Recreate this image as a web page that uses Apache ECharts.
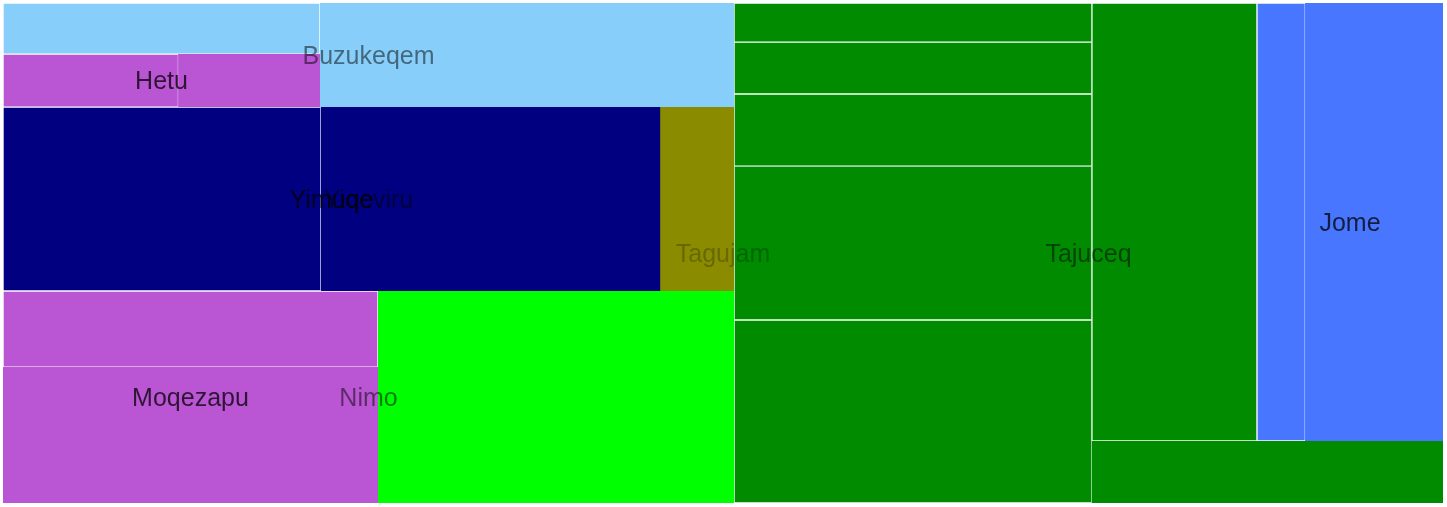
<!DOCTYPE html>
<html>
<head>
<meta charset="utf-8">
<script src="https://cdn.jsdelivr.net/npm/echarts@6/dist/echarts.min.js"></script>
<style>
html, body { margin: 0; padding: 0; background: #ffffff; }
#chart { width: 1447px; height: 507px; }
</style>
</head>
<body>
<div id="chart"></div>
<script>
// ---- data ----
// Every node in depth-first order; children keep this order.
const nodeNames = ['Tagujam', 'Buzukeqem', 'Buzukeqem 1', 'Hetu', 'Hetu 1', 'Yiqeviru', 'Yimuqe', 'Yimuqe 1',
  'Nimo', 'Moqezapu', 'Moqezapu 1', 'Tajuceq', 'Tajuceq 1', 'Tajuceq 2', 'Tajuceq 3', 'Tajuceq 4',
  'Tajuceq 5', 'Tajuceq 6', 'Jome', 'Jome 1'];
const nodeParents = ['', 'Tagujam', 'Buzukeqem', 'Buzukeqem', 'Hetu', 'Tagujam', 'Yiqeviru', 'Yimuqe',
  'Tagujam', 'Nimo', 'Moqezapu', 'Tagujam', 'Tajuceq', 'Tajuceq', 'Tajuceq', 'Tajuceq',
  'Tajuceq', 'Tajuceq', 'Tajuceq', 'Jome'];
// Own value of each node (for a group: the part not covered by its children)
const nodeValues = [0, 431, 162, 75, 93, 136, 624, 585,
  755, 509, 286, 218, 140, 186, 258, 551,
  655, 723, 603, 212];
// Group colours
const groupNames = ['Tagujam', 'Buzukeqem', 'Hetu', 'Yiqeviru', 'Yimuqe', 'Nimo', 'Moqezapu', 'Tajuceq', 'Jome'];
const groupColors = ['#66CD00', '#87CEFA', '#BA55D3', '#8B8B00', '#000080', '#00FF00', '#BA55D3', '#008B00', '#4876FF'];

// ---- build the hierarchy ----
const CLEAR = 'rgba(0,0,0,0)';
function build(name, inheritedColor, visible) {
  const idx = nodeNames.indexOf(name);
  const gi = groupNames.indexOf(name);
  const color = gi >= 0 ? groupColors[gi] : inheritedColor;
  const kids = nodeNames.filter(function (n, i) { return nodeParents[i] === name; });
  const node = { name: name };
  if (!kids.length) {
    node.value = nodeValues[idx];
    node.itemStyle = visible
      ? { color: color, borderColor: '#ffffff', borderWidth: 0.7 }
      : { color: CLEAR, borderColor: CLEAR, borderWidth: 0 };
    node.label = { show: false };
    return node;
  }
  node.children = kids.map(function (k) { return build(k, color, visible); });
  if (nodeValues[idx] > 0) {
    node.children.push({
      name: name,
      value: nodeValues[idx],
      itemStyle: visible ? { color: color, borderColor: color, borderWidth: 0 } : { color: CLEAR, borderColor: CLEAR, borderWidth: 0 },
      label: { show: false }
    });
  }
  node.itemStyle = visible
    ? { color: color, borderColor: color, borderWidth: 0, gapWidth: 0 }
    : { color: CLEAR, borderColor: CLEAR, borderWidth: 0, gapWidth: 0 };
  node.label = { show: true };
  return node;
}
const roots = nodeNames.filter(function (n, i) { return nodeParents[i] === ''; });

const FONT = '"Liberation Sans", Arial, Helvetica, sans-serif';
function baseSeries() {
  return {
    type: 'treemap',
    left: 3, top: 3, width: 1440, height: 500,
    roam: false,
    nodeClick: false,
    breadcrumb: { show: false },
    squareRatio: 3.3,
    sort: false,
    visibleMin: 0,
    drillDownIcon: '',
    animation: false,
    upperLabel: { show: false },
    itemStyle: { borderWidth: 0, gapWidth: 0 },
    emphasis: { disabled: true }
  };
}

const series = [];
const main = baseSeries();
main.z = 1;
main.data = roots.map(function (r) { return build(r, '#cccccc', true); });
main.label = { show: false };
series.push(main);

const labelAlpha = [0.25, 0.5, 0.75];
for (let d = 1; d <= 3; d++) {
  const s = baseSeries();
  s.z = 5 + d;
  s.leafDepth = d;
  s.silent = true;
  s.itemStyle = { borderWidth: 0, gapWidth: 0, borderColor: CLEAR, color: CLEAR };
  s.levels = [{ itemStyle: { borderColor: CLEAR, borderWidth: 0, gapWidth: 0 } }];
  s.data = roots.map(function (r) { return build(r, CLEAR, false); });
  s.label = {
    show: true, position: 'inside', align: 'center', verticalAlign: 'middle',
    offset: [0, 2],
    color: 'rgba(0,0,0,' + labelAlpha[d - 1] + ')',
    fontSize: 25, fontFamily: FONT, padding: 0, overflow: 'none'
  };
  series.push(s);
}

const chart = echarts.init(document.getElementById('chart'), null, { renderer: 'canvas' });
chart.setOption({ animation: false, tooltip: { show: false }, series: series });
</script>
</body>
</html>
